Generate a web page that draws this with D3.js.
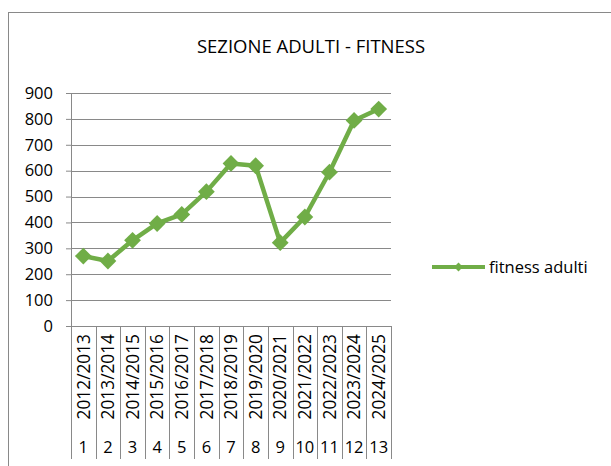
<!DOCTYPE html>
<html>
<head>
<meta charset="utf-8">
<script src="https://cdn.jsdelivr.net/npm/d3@7"></script>
<style>
  body { margin: 0; background: #fff; }
  text { font-family: "Open Sans", "Noto Sans", sans-serif; fill: #000; }
</style>
</head>
<body>
<svg width="611" height="466"></svg>
<script>
var seasons = ["2012/2013", "2013/2014", "2014/2015", "2015/2016", "2016/2017", "2017/2018", "2018/2019",
               "2019/2020", "2020/2021", "2021/2022", "2022/2023", "2023/2024", "2024/2025"];
var indexes = ["1", "2", "3", "4", "5", "6", "7", "8", "9", "10", "11", "12", "13"];
var fitnessAdulti = [270, 251, 331, 396, 431, 519, 628, 619, 322, 421, 594, 794, 838];
var yTicks = [0, 100, 200, 300, 400, 500, 600, 700, 800, 900];

var green = "#70ad47", gray = "#898989";

var svg = d3.select("svg"),
    margin = {top: 93, right: 220, bottom: 140, left: 71},
    width = +svg.attr("width") - margin.left - margin.right,
    height = +svg.attr("height") - margin.top - margin.bottom;

// chart frame (only top and left edges are visible in the picture)
svg.append("rect")
    .attr("x", 8.5).attr("y", 12.5)
    .attr("width", 700).attr("height", 600)
    .attr("fill", "none")
    .attr("stroke", gray);

svg.append("text")
    .attr("x", 311).attr("y", 53)
    .attr("text-anchor", "middle")
    .style("font-size", "18.5px")
    .text("SEZIONE ADULTI - FITNESS");

var x = d3.scaleBand().domain(d3.range(seasons.length)).range([0, width]),
    y = d3.scaleLinear().domain([0, 900]).range([height, 0]);

var g = svg.append("g")
    .attr("transform", "translate(" + margin.left + "," + margin.top + ")");

// horizontal gridlines + y axis
var yAxis = g.append("g")
    .attr("class", "axis axis--y")
    .call(d3.axisLeft(y).tickValues(yTicks).tickSize(5).tickPadding(13));
yAxis.select(".domain").attr("stroke", gray);
yAxis.selectAll(".tick line").attr("stroke", gray);
yAxis.selectAll(".tick text")
    .style("font-size", "16.5px")
    .attr("font-family", null);

g.append("g")
    .selectAll("line")
    .data(yTicks)
    .enter().append("line")
    .attr("x1", 0).attr("x2", width)
    .attr("y1", function(d) { return Math.round(y(d)) + 0.5; })
    .attr("y2", function(d) { return Math.round(y(d)) + 0.5; })
    .attr("stroke", gray);

// category axis with two label levels
var catH = 133;
var bounds = d3.range(seasons.length + 1).map(function(i) {
    return i < seasons.length ? x(i) : width;
});
g.append("g")
    .selectAll("line")
    .data(bounds)
    .enter().append("line")
    .attr("x1", function(d) { return Math.round(d) + 0.5; })
    .attr("x2", function(d) { return Math.round(d) + 0.5; })
    .attr("y1", height).attr("y2", height + catH)
    .attr("stroke", gray);

g.append("g")
    .selectAll("text")
    .data(seasons)
    .enter().append("text")
    .attr("transform", function(d, i) {
        return "translate(" + (x(i) + x.bandwidth() / 2) + "," + (height + 8) + ") rotate(-90)";
    })
    .attr("dy", "0.36em")
    .attr("text-anchor", "end")
    .style("font-size", "17.3px")
    .text(function(d) { return d; });

g.append("g")
    .selectAll("text")
    .data(indexes)
    .enter().append("text")
    .attr("x", function(d, i) { return x(i) + x.bandwidth() / 2; })
    .attr("y", height + 127)
    .attr("text-anchor", "middle")
    .style("font-size", "16.5px")
    .text(function(d) { return d; });

// series
var line = d3.line()
    .x(function(d, i) { return x(i) + x.bandwidth() / 2; })
    .y(function(d) { return y(d); });

g.append("path")
    .datum(fitnessAdulti)
    .attr("fill", "none")
    .attr("stroke", green)
    .attr("stroke-width", 4.5)
    .attr("stroke-linejoin", "round")
    .attr("d", line);

var diamond = d3.symbol().type(d3.symbolDiamond2).size(180);
g.selectAll(".marker")
    .data(fitnessAdulti)
    .enter().append("path")
    .attr("class", "marker")
    .attr("transform", function(d, i) {
        return "translate(" + (x(i) + x.bandwidth() / 2) + "," + y(d) + ")";
    })
    .attr("d", diamond)
    .attr("fill", green);

// legend
var legend = svg.append("g").attr("transform", "translate(432,267)");
legend.append("line")
    .attr("x1", 0).attr("x2", 53)
    .attr("stroke", green).attr("stroke-width", 4);
legend.append("path")
    .attr("transform", "translate(26.5,0)")
    .attr("d", d3.symbol().type(d3.symbolDiamond2).size(50))
    .attr("fill", green);
legend.append("text")
    .attr("x", 57).attr("dy", "0.35em")
    .style("font-size", "16.5px")
    .text("fitness adulti");
</script>
</body>
</html>
